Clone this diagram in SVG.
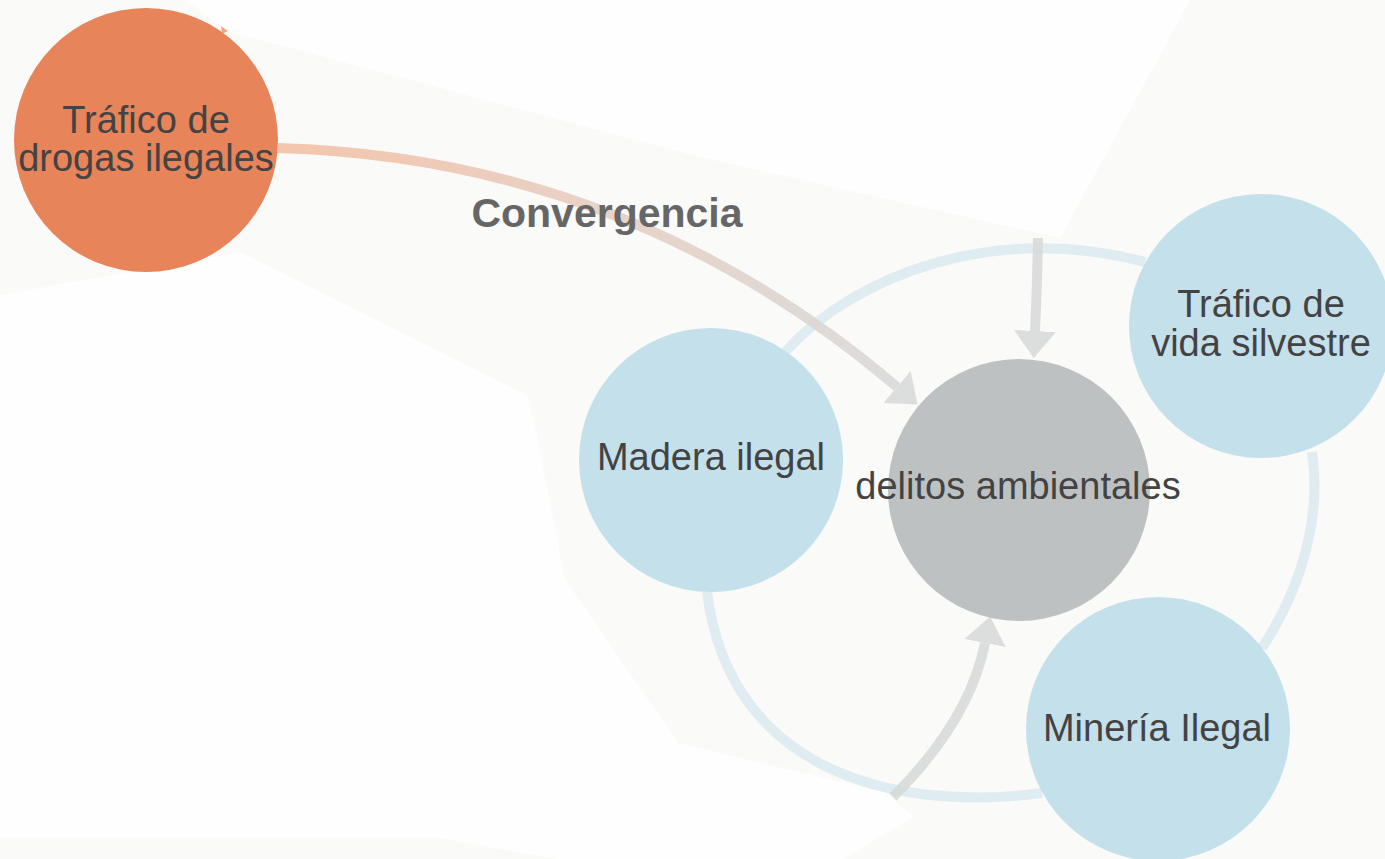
<svg xmlns="http://www.w3.org/2000/svg" width="1385" height="859" viewBox="0 0 1385 859">
  <defs>
    <style>
      .lbl { font-family: "Liberation Sans", Arial, sans-serif; font-size: 38px; fill: #434343; text-anchor: middle; }
      .title { font-family: "Liberation Sans", Arial, sans-serif; font-size: 41px; font-weight: bold; fill: #666666; text-anchor: middle; }
      .ring { fill: none; stroke: #c4e0eb; stroke-opacity: 0.5; stroke-width: 10; }
      .flow { fill: none; stroke: #d5d7d7; stroke-opacity: 0.8; stroke-width: 10; }
      .blue { fill: #c4e0eb; }
    </style>
    <linearGradient id="g-orange" gradientUnits="userSpaceOnUse" x1="278" y1="148" x2="897" y2="387">
      <stop offset="0" stop-color="#f3c1a7"/>
      <stop offset="0.5" stop-color="#e6cfc3"/>
      <stop offset="1" stop-color="#d9dada"/>
    </linearGradient>
    <marker id="head" markerUnits="userSpaceOnUse" viewBox="0 0 27 42" markerWidth="27" markerHeight="42" refX="0" refY="21" orient="auto">
      <path d="M0,0 L27,21 L0,42 Z" fill="#dcdddd"/>
    </marker>
  </defs>

  <!-- background -->
  <rect width="1385" height="859" fill="#fafaf8"/>
  <polygon points="187,0 223,30 700,157 1060,238 1190,0" fill="#fefefe"/>
  <polygon points="0,295 241,252 527,395 536,430 565,580 678,743 887,793 913,817 843,859 557,859 450,840 430,837 0,837" fill="#fefefe"/>

  <!-- connectors -->
  <g id="connectors">
    <path class="ring" d="M785,352 C855,275 995,222 1145,262"/>
    <path class="ring" d="M1312,452 C1322,520 1300,590 1262,648"/>
    <path class="ring" d="M707,592 C730,775 900,812 1042,793"/>
    <path d="M278,148 Q628,158 897,387" fill="none" stroke="url(#g-orange)" stroke-width="10" stroke-opacity="0.92" marker-end="url(#head)"/>
    <path class="flow" d="M1038,238 Q1037,290 1035,331" marker-end="url(#head)"/>
    <path class="flow" d="M893,797 Q970,720 985,643" marker-end="url(#head)"/>
    <polygon points="221,26 222,34 228,31" fill="#f2a887"/>
  </g>

  <text class="title" x="607" y="227">Convergencia</text>

  <!-- nodes -->
  <g id="node-drogas">
    <circle cx="146" cy="140" r="132" fill="#e8845a"/>
    <text class="lbl" x="146" y="133">Tráfico de</text>
    <text class="lbl" x="146" y="171">drogas ilegales</text>
  </g>
  <g id="node-madera">
    <circle class="blue" cx="711" cy="460" r="132"/>
    <text class="lbl" x="711" y="470">Madera ilegal</text>
  </g>
  <g id="node-delitos">
    <circle cx="1019" cy="490" r="131" fill="#bec1c2"/>
    <text class="lbl" x="1018" y="499">delitos ambientales</text>
  </g>
  <g id="node-vida">
    <circle class="blue" cx="1261" cy="326" r="132"/>
    <text class="lbl" x="1261" y="317">Tráfico de</text>
    <text class="lbl" x="1261" y="356">vida silvestre</text>
  </g>
  <g id="node-mineria">
    <circle class="blue" cx="1158" cy="729" r="132"/>
    <text class="lbl" x="1157" y="741">Minería Ilegal</text>
  </g>
</svg>
